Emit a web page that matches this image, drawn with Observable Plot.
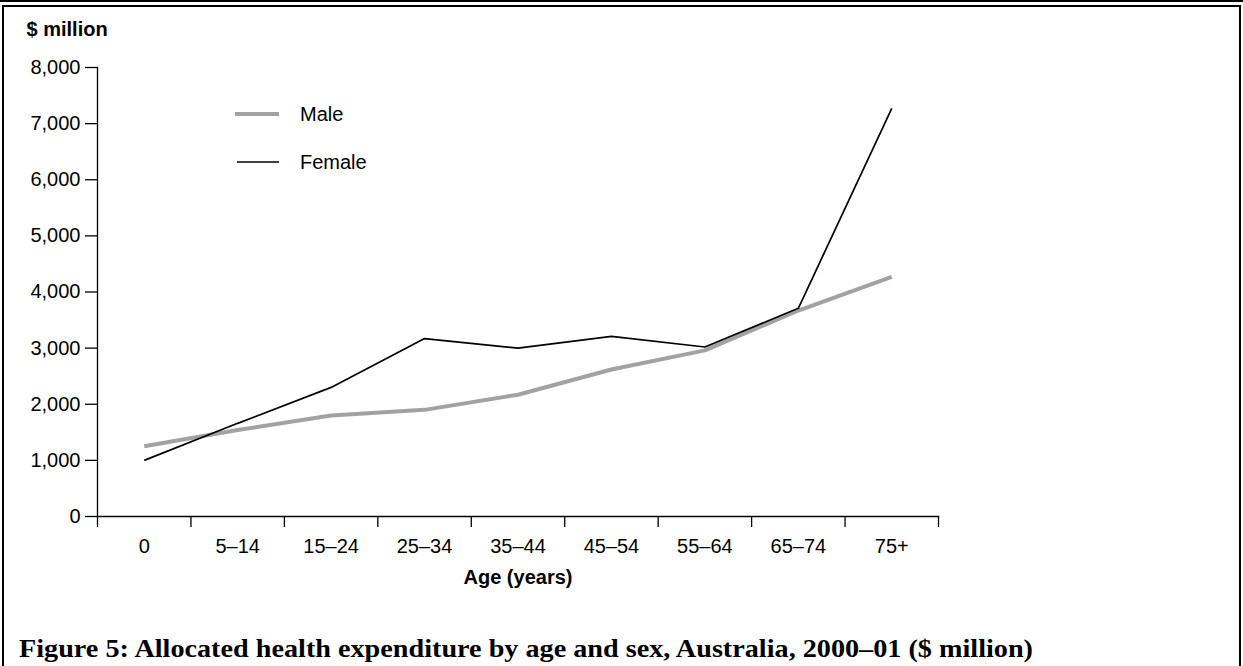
<!DOCTYPE html>
<html>
<head>
<meta charset="utf-8">
<script src="https://cdn.jsdelivr.net/npm/d3@7"></script>
<script src="https://cdn.jsdelivr.net/npm/@observablehq/plot@0.6"></script>
<style>
  html, body { margin: 0; padding: 0; background: #fff; }
  #page { position: relative; width: 1243px; height: 666px; overflow: hidden; background: #fff; }
  #topline { position: absolute; left: 0; top: 0; width: 1243px; height: 1.5px; background: #000; }
  #box { position: absolute; left: 2px; top: 4.5px; width: 1239px; height: 720px; box-sizing: border-box; border: 2px solid #000; }
  #chart { position: absolute; left: 0; top: 0; }
  #legend { position: absolute; left: 0; top: 0; }
  #caption { position: absolute; left: 0; top: 0; }
</style>
</head>
<body>
<div id="page">
  <div id="topline"></div>
  <div id="box"></div>
  <div id="chart"></div>
  <svg id="legend" width="1243" height="666"></svg>
  <svg id="caption" width="1243" height="666"></svg>
</div>
<script>
// ---- data ----
const categories = ["0", "5\u201314", "15\u201324", "25\u201334", "35\u201344", "45\u201354", "55\u201364", "65\u201374", "75+"];
const male   = [1250, 1540, 1800, 1900, 2170, 2620, 2960, 3670, 4270];
const female = [1000, 1660, 2300, 3170, 3000, 3210, 3020, 3710, 7270];
const yTicks = [0, 1000, 2000, 3000, 4000, 5000, 6000, 7000, 8000];
const seriesNames = ["Male", "Female"];
const yTitle = "$ million";
const xTitle = "Age (years)";
const captionText = "Figure 5: Allocated health expenditure by age and sex, Australia, 2000\u201301 ($ million)";

// ---- build table ----
const rows = [];
categories.forEach((c, i) => {
  rows.push({series: "Male", pos: i + 0.5, value: male[i]});
  rows.push({series: "Female", pos: i + 0.5, value: female[i]});
});
const centers = categories.map((c, i) => i + 0.5);
const bounds = d3.range(categories.length + 1);

const styles = {
  Male:   {stroke: "#a2a2a2", width: 4},
  Female: {stroke: "#000000", width: 1.7}
};

const W = 1243, H = 600;
const chart = Plot.plot({
  width: W,
  height: H,
  marginLeft: 97,
  marginRight: W - 938,
  marginTop: 67,
  marginBottom: H - 516,
  style: {fontFamily: "'Liberation Sans', Arial, sans-serif", fontSize: "20px", color: "#000", background: "transparent", overflow: "visible"},
  x: {domain: [0, categories.length]},
  y: {domain: [0, 8000]},
  marks: [
    Plot.axisY({ticks: yTicks, tickSize: 12, tickPadding: 5, tickFormat: d3.format(","), label: null, strokeWidth: 1.3, fontSize: 20}),
    Plot.axisX({ticks: bounds, tickSize: 11, tickFormat: () => "", label: null, strokeWidth: 1.3}),
    Plot.axisX({ticks: centers, tickSize: 0, tickPadding: 22, tickFormat: v => categories[Math.round(v - 0.5)], label: null, fontSize: 20}),
    Plot.frame({anchor: "left", strokeWidth: 1.3}),
    Plot.frame({anchor: "bottom", strokeWidth: 1.3}),
    Plot.line(rows.filter(d => d.series === "Male"), {x: "pos", y: "value", stroke: styles.Male.stroke, strokeWidth: styles.Male.width, strokeLinejoin: "miter", strokeLinecap: "butt"}),
    Plot.line(rows.filter(d => d.series === "Female"), {x: "pos", y: "value", stroke: styles.Female.stroke, strokeWidth: styles.Female.width, strokeLinejoin: "miter", strokeLinecap: "butt"}),
    Plot.text([xTitle], {frameAnchor: "bottom", dy: 53, lineAnchor: "top", fontWeight: "bold", fontSize: 20}),
    Plot.text([yTitle], {frameAnchor: "top-left", dx: -71, dy: -46, lineAnchor: "top", textAnchor: "start", fontWeight: "bold", fontSize: 20})
  ]
});
document.getElementById("chart").appendChild(chart);

// ---- legend ----
const legend = d3.select("#legend");
const legendItems = [
  {name: seriesNames[0], x1: 235, x2: 279, y: 114},
  {name: seriesNames[1], x1: 237, x2: 279, y: 162}
];
legendItems.forEach(it => {
  const s = styles[it.name];
  legend.append("line").attr("x1", it.x1).attr("x2", it.x2).attr("y1", it.y).attr("y2", it.y)
    .attr("stroke", s.stroke).attr("stroke-width", s.width);
  legend.append("text").attr("x", 300).attr("y", it.y).attr("dy", "0.35em")
    .attr("font-family", "'Liberation Sans', Arial, sans-serif").attr("font-size", 20).attr("fill", "#000")
    .text(it.name);
});

// ---- caption ----
d3.select("#caption").append("text")
  .attr("x", 19).attr("y", 657)
  .attr("font-family", "'Liberation Serif', 'DejaVu Serif', serif")
  .attr("font-weight", "bold").attr("font-size", 26).attr("fill", "#000")
  .attr("textLength", 1014).attr("lengthAdjust", "spacingAndGlyphs")
  .text(captionText);
</script>
</body>
</html>
